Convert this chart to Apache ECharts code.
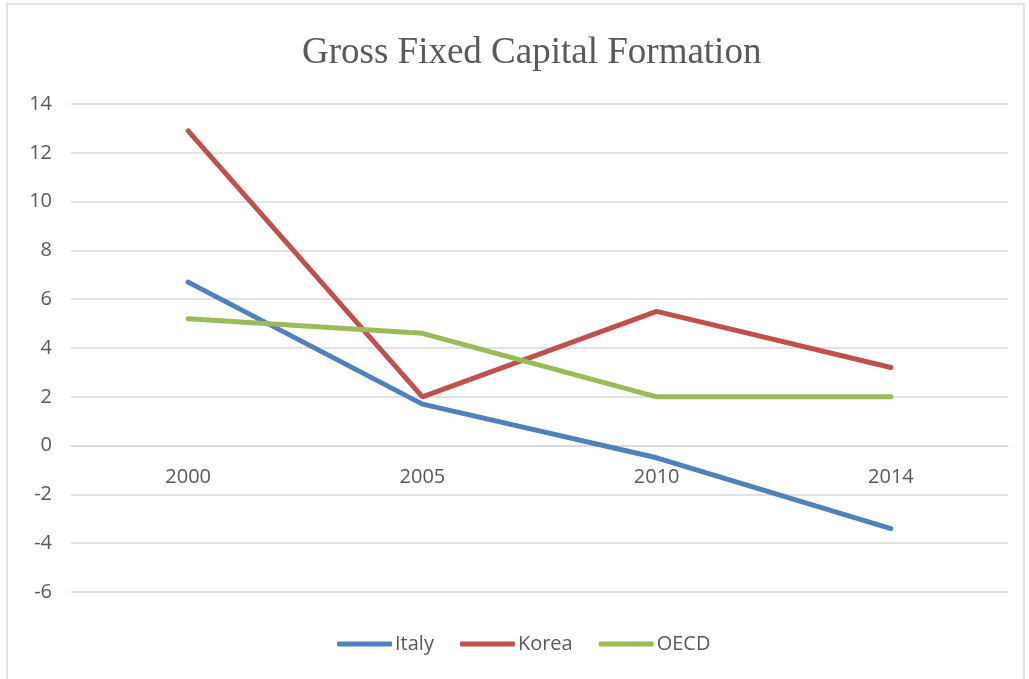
<!DOCTYPE html>
<html>
<head>
<meta charset="utf-8">
<style>
  html, body { margin: 0; padding: 0; background: #fff; }
  #chart { width: 1029px; height: 679px; }
</style>
<script src="https://cdn.jsdelivr.net/npm/echarts@6/dist/echarts.min.js"></script>
</head>
<body>
<div id="chart"></div>
<script>
// 数据
const years = ['2000', '2005', '2010', '2014'];
const italy = [6.7, 1.7, -0.5, -3.4];
const korea = [12.9, 2.0, 5.5, 3.2];
const oecd = [5.2, 4.6, 2.0, 2.0];

const labelFont = '"Open Sans", "Liberation Sans", sans-serif';

const chart = echarts.init(document.getElementById('chart'));
const option = {
    animation: false,
    backgroundColor: '#fff',
    graphic: [{
        type: 'rect',
        shape: { x: 7, y: 4, width: 1017, height: 690 },
        style: { fill: 'none', stroke: '#d9d9d9', lineWidth: 1.5 }
    }],
    title: {
        text: 'Gross Fixed Capital Formation',
        left: 297,
        top: 30,
        textStyle: {
            fontFamily: '"Liberation Serif", "DejaVu Serif", serif',
            fontSize: 37,
            fontWeight: 'normal',
            color: '#595959'
        }
    },
    legend: {
        bottom: 20,
        left: 332,
        icon: 'roundRect',
        itemWidth: 55,
        itemHeight: 5,
        itemGap: 26,
        textStyle: { fontFamily: labelFont, fontSize: 20, color: '#595959', padding: [0, 0, 0, -2] },
        data: ['Italy', 'Korea', 'OECD']
    },
    grid: { left: 71, right: 21, top: 104, bottom: 87 },
    xAxis: {
        type: 'category',
        data: years,
        boundaryGap: true,
        // 横轴放在0刻度线上
        offset: -146,
        axisLine: { onZero: false, lineStyle: { color: '#d9d9d9', width: 1.5 } },
        axisTick: { show: false },
        axisLabel: { margin: 21, fontFamily: labelFont, fontSize: 20, color: '#595959' }
    },
    yAxis: {
        type: 'value',
        min: -6,
        max: 14,
        interval: 2,
        axisLine: { show: false },
        axisTick: { show: false },
        axisLabel: { margin: 19, fontFamily: labelFont, fontSize: 20, color: '#595959' },
        splitLine: { lineStyle: { color: '#d9d9d9', width: 1.5 } }
    },
    series: [
        {
            name: 'Italy', type: 'line', data: italy, symbol: 'none',
            lineStyle: { color: '#4f81bd', width: 5, cap: 'round' },
            itemStyle: { color: '#4f81bd' }
        },
        {
            name: 'Korea', type: 'line', data: korea, symbol: 'none',
            lineStyle: { color: '#c0504d', width: 5, cap: 'round' },
            itemStyle: { color: '#c0504d' }
        },
        {
            name: 'OECD', type: 'line', data: oecd, symbol: 'none',
            lineStyle: { color: '#9bbb59', width: 5, cap: 'round' },
            itemStyle: { color: '#9bbb59' }
        }
    ]
};
chart.setOption(option);
</script>
</body>
</html>
